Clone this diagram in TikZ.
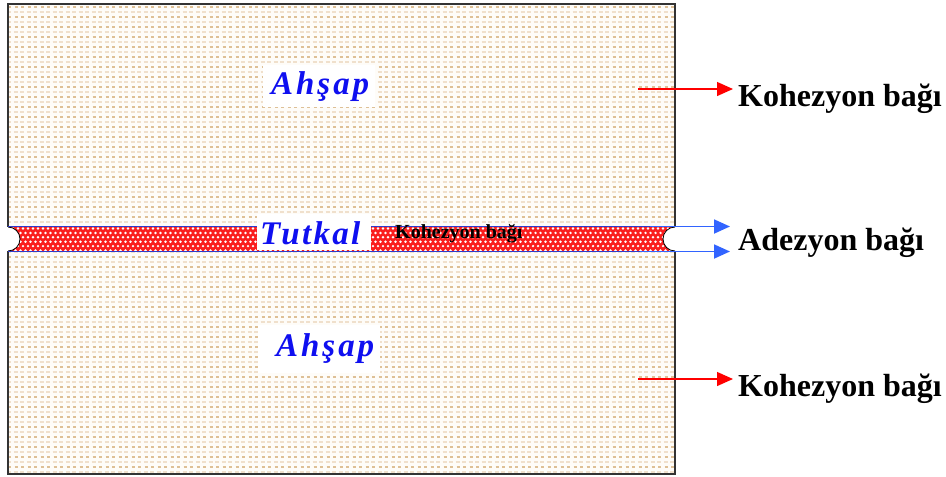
\documentclass[tikz,border=0pt]{standalone}
\usepackage{fontspec}
\setmainfont{Liberation Serif}
\newfontfamily\spacedA[LetterSpace=9]{Liberation Serif}
\newfontfamily\spacedT[LetterSpace=7]{Liberation Serif}
\usetikzlibrary{arrows.meta}
\definecolor{woodA}{RGB}{222,192,150}
\definecolor{woodB}{RGB}{240,224,204}
\definecolor{woodbg}{RGB}{254,252,248}
\definecolor{gluered}{RGB}{250,30,30}
\definecolor{lineblue}{RGB}{45,60,205}
\definecolor{arrowblue}{RGB}{50,100,255}
\definecolor{txtblue}{RGB}{15,15,240}
\tikzset{
  rowA/.style={woodA, line width=1.1pt, dash pattern=on 3pt off 3.5pt},
  rowB/.style={woodB, line width=1.1pt, dash pattern=on 4pt off 2.5pt, dash phase=1pt},
  sidelbl/.style={inner sep=0pt, font=\bfseries\fontsize{32}{36}\selectfont},
  woodlbl/.style={inner sep=0pt, text=txtblue, font=\spacedA\bfseries\itshape\fontsize{33}{37}\selectfont},
  gluelbl/.style={inner sep=0pt, text=txtblue, font=\spacedT\bfseries\itshape\fontsize{33}{37}\selectfont},
  innerlbl/.style={inner sep=0pt, font=\bfseries\fontsize{20}{24}\selectfont},
  redarrow/.style={red, line width=1.3pt, -{Triangle[length=16pt,width=14pt]}},
  bluearrow/.style={arrowblue, line width=1.8pt, -{Triangle[length=16pt,width=14pt]}},
}
\begin{document}
\begin{tikzpicture}[x=1pt,y=-1pt]
\useasboundingbox (0,0) rectangle (946,477);
\fill[white] (0,0) rectangle (946,477);
% wood texture
\begin{scope}
  \clip (8,4) rectangle (675,474);
  \fill[woodbg] (8,4) rectangle (675,474);
  \foreach \y in {7,17,...,477} \draw[rowA] (8,\y) -- (675,\y);
  \foreach \y in {12,22,...,477} \draw[rowB] (8,\y) -- (675,\y);
\end{scope}
% glue layer
\fill[gluered] (8,227) rectangle (675,251);
\begin{scope}
  \clip (8,227) rectangle (675,251);
  \foreach \r in {0,...,5} {
    \foreach \c in {0,...,134} {
      \pgfmathsetmacro{\xx}{8+5*\c+2.5*mod(\r,2)}
      \pgfmathsetmacro{\yy}{228.5+4.4*\r}
      \fill[white] (\xx,\yy) circle[radius=1.35pt];
    }
  }
\end{scope}
% box border
\draw[black!80, line width=1.5pt] (8,4) rectangle (675,474);
% notches
\begin{scope}
  \clip (6,220) rectangle (677,258);
  \fill[white] (8,239) circle[radius=12pt];
  \fill[white] (675,239) circle[radius=12pt];
\end{scope}
\begin{scope}
  \clip (8,220) rectangle (675,258);
  \draw[black, line width=0.8pt] (8,239) circle[radius=12pt];
  \draw[black, line width=0.8pt] (675,239) circle[radius=12pt];
\end{scope}
% glue boundaries
\draw[lineblue, line width=1.6pt] (8,226.5) -- (675,226.5);
\draw[lineblue, line width=1.6pt] (8,251.5) -- (675,251.5);
% label backgrounds
\fill[white] (263,65) rectangle (375,107);
\fill[white] (258,325) rectangle (380,373);
\fill[white] (257,214) rectangle (371,250);
% labels
\node[woodlbl, anchor=base west] (ah1) at (271,94) {Ahşap};
\node[woodlbl, anchor=base west] (ah2) at (276,356) {Ahşap};
\node[gluelbl, anchor=base west] (tut) at (260,244) {Tutkal};
\node[innerlbl, anchor=base west] (kin) at (395,238) {Kohezyon bağı};
\node[sidelbl, anchor=base west] (k1) at (738,106) {Kohezyon bağı};
\node[sidelbl, anchor=base west] (ad) at (738,250) {Adezyon bağı};
\node[sidelbl, anchor=base west] (k2) at (738,396) {Kohezyon bağı};
% arrows
\coordinate (r1s) at (638,89);
\coordinate (r2s) at (638,379);
\coordinate (b1s) at (650,226.5);
\coordinate (b2s) at (640,251.5);
\draw[redarrow, shorten >=5pt] (r1s) -- (r1s -| k1.west);
\draw[redarrow, shorten >=5pt] (r2s) -- (r2s -| k2.west);
\draw[bluearrow, shorten >=8pt] (b1s) -- (b1s -| ad.west);
\draw[bluearrow, shorten >=8pt] (b2s) -- (b2s -| ad.west);
\end{tikzpicture}
\end{document}
